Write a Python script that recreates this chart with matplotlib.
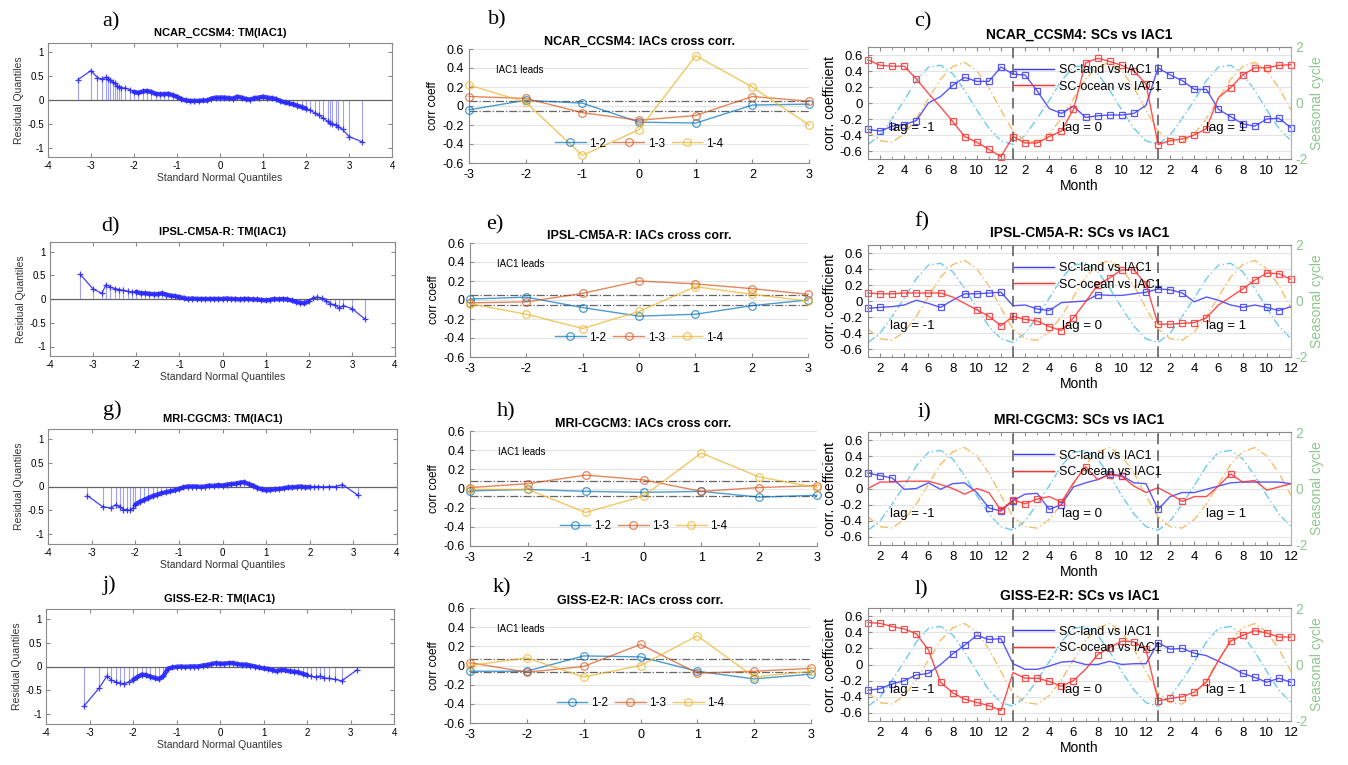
import numpy as np
import matplotlib
matplotlib.use("Agg")
import matplotlib.pyplot as plt
from matplotlib.lines import Line2D
from matplotlib.ticker import FuncFormatter, MultipleLocator

plt.rcParams["font.family"] = ["Liberation Sans", "DejaVu Sans"]
plt.rcParams["axes.unicode_minus"] = False

W, H = 1348, 765

MODELS = ["NCAR_CCSM4", "IPSL-CM5A-R", "MRI-CGCM3", "GISS-E2-R"]
LETTERS = [("a)", "b)", "c)"), ("d)", "e)", "f)"), ("g)", "h)", "i)"), ("j)", "k)", "l)")]

# ---------------- Q-Q residual quantiles (TM(IAC1)) ----------------
# centre of each Q-Q curve is read on a 0.1 grid of normal quantiles
QQ_GRID = np.round(np.arange(-2.0, 2.01, 0.1), 1)

qq_a_lx = [-3.3, -3.0, -2.85, -2.75, -2.65, -2.6, -2.55, -2.5, -2.45, -2.4, -2.35, -2.3, -2.2, -2.1]
qq_a_ly = [0.43, 0.62, 0.47, 0.44, 0.48, 0.45, 0.42, 0.38, 0.35, 0.30, 0.28, 0.26, 0.25, 0.22]
qq_a_mid = [0.17, 0.15, 0.18, 0.19, 0.17, 0.13, 0.12, 0.12, 0.13, 0.10, 0.07, 0.02, -0.01, -0.02,
            -0.02, -0.02, -0.01, -0.01, 0.03, 0.05, 0.05, 0.05, 0.04, 0.03, 0.07, 0.05, 0.02, 0.01,
            0.04, 0.05, 0.07, 0.05, 0.04, 0.02, -0.02, -0.05, -0.07, -0.09, -0.12, -0.15, -0.18]
qq_a_rx = [2.1, 2.2, 2.3, 2.4, 2.5, 2.55, 2.6, 2.7, 2.75, 2.85, 3.0, 3.3]
qq_a_ry = [-0.22, -0.27, -0.32, -0.38, -0.45, -0.48, -0.50, -0.52, -0.56, -0.62, -0.77, -0.88]

qq_d_lx = [-3.3, -3.0, -2.8, -2.7, -2.6, -2.5, -2.4, -2.3, -2.2, -2.1]
qq_d_ly = [0.52, 0.21, 0.12, 0.30, 0.25, 0.22, 0.20, 0.18, 0.16, 0.15]
qq_d_mid = [0.15, 0.12, 0.12, 0.11, 0.10, 0.10, 0.12, 0.09, 0.07, 0.06, 0.04, 0.02, 0.0, 0.01,
            0.0, 0.0, 0.0, 0.0, 0.0, 0.0, 0.0, 0.01, 0.0, 0.0, -0.01, 0.0, 0.0, -0.01,
            -0.01, -0.02, -0.03, -0.02, 0.0, -0.01, 0.0, -0.01, -0.03, -0.06, -0.08, -0.09, -0.05]
qq_d_rx = [2.1, 2.2, 2.3, 2.4, 2.5, 2.6, 2.7, 2.8, 3.0, 3.3]
qq_d_ry = [0.03, 0.04, 0.02, -0.04, -0.10, -0.12, -0.19, -0.14, -0.20, -0.42]

qq_g_lx = [-3.1, -2.75, -2.55, -2.45, -2.35, -2.28, -2.2, -2.12, -2.05]
qq_g_ly = [-0.19, -0.42, -0.45, -0.38, -0.42, -0.48, -0.48, -0.50, -0.45]
qq_g_mid = [-0.38, -0.32, -0.28, -0.24, -0.20, -0.17, -0.14, -0.12, -0.10, -0.08, -0.05, -0.02, 0.0, 0.0,
            0.0, -0.01, 0.0, 0.02, 0.01, 0.03, 0.02, 0.04, 0.05, 0.06, 0.08, 0.09, 0.05, 0.02,
            -0.03, -0.06, -0.08, -0.07, -0.06, -0.05, -0.04, -0.02, -0.02, -0.01, 0.0, -0.02, -0.01]
qq_g_rx = [2.1, 2.2, 2.3, 2.45, 2.6, 2.75, 3.1]
qq_g_ry = [0.0, 0.0, -0.01, 0.0, 0.0, 0.04, -0.18]

qq_j_lx = [-3.12, -2.78, -2.6, -2.5, -2.4, -2.3, -2.2, -2.1]
qq_j_ly = [-0.82, -0.45, -0.20, -0.28, -0.32, -0.35, -0.36, -0.32]
qq_j_mid = [-0.28, -0.22, -0.17, -0.18, -0.21, -0.24, -0.26, -0.20, -0.05, -0.02, -0.01, 0.0, -0.01, 0.0,
            0.0, 0.0, 0.02, 0.03, 0.05, 0.07, 0.06, 0.06, 0.07, 0.07, 0.05, 0.04, 0.04, 0.02,
            0.0, -0.02, -0.04, -0.05, -0.07, -0.10, -0.07, -0.08, -0.10, -0.11, -0.12, -0.15, -0.18]
qq_j_rx = [2.1, 2.2, 2.3, 2.4, 2.5, 2.65, 2.8, 3.15]
qq_j_ry = [-0.20, -0.22, -0.20, -0.24, -0.25, -0.27, -0.30, -0.07]

# ---------------- IACs cross correlation ----------------
LAGS = [-3, -2, -1, 0, 1, 2, 3]
cc_b = {"1-2": [-0.04, 0.06, 0.03, -0.17, -0.18, 0.01, 0.02],
        "1-3": [0.10, 0.08, -0.07, -0.15, -0.10, 0.10, 0.05],
        "1-4": [0.22, 0.04, -0.52, -0.25, 0.53, 0.20, -0.20]}
cc_e = {"1-2": [0.01, 0.03, -0.08, -0.17, -0.15, -0.06, 0.0],
        "1-3": [-0.03, -0.02, 0.07, 0.20, 0.17, 0.12, 0.06],
        "1-4": [-0.04, -0.15, -0.30, -0.12, 0.14, 0.06, -0.01]}
cc_h = {"1-2": [-0.025, -0.01, -0.03, -0.04, -0.03, -0.09, -0.07],
        "1-3": [0.01, 0.05, 0.14, 0.09, -0.03, 0.01, 0.03],
        "1-4": [-0.01, -0.01, -0.25, -0.08, 0.37, 0.12, 0.01]}
cc_k = {"1-2": [-0.06, -0.06, 0.10, 0.09, -0.06, -0.14, -0.09],
        "1-3": [0.03, -0.07, -0.01, 0.22, -0.08, -0.06, -0.03],
        "1-4": [0.0, 0.08, -0.12, 0.0, 0.31, -0.12, -0.06]}
cc_thr = [0.055, 0.055, 0.075, 0.068]

# ---------------- SCs vs IAC1 (3 x 12 months) ----------------
MONTHS = list(range(1, 37))
season_land = [-1.48, -1.15, -0.55, 0.10, 0.80, 1.28, 1.35, 1.05, 0.45, -0.25, -0.90, -1.35]
season_ocean = [-1.00, -1.35, -1.40, -1.10, -0.55, 0.15, 0.85, 1.30, 1.45, 1.15, 0.55, -0.25]

sc_c_land = [-0.33, -0.35, -0.29, -0.27, -0.22, 0.0, 0.08, 0.22, 0.32, 0.27, 0.27, 0.45,
             0.36, 0.35, 0.15, -0.07, -0.13, -0.04, -0.18, -0.16, -0.15, -0.15, -0.13, -0.03,
             0.44, 0.35, 0.28, 0.17, 0.17, -0.08, -0.17, -0.26, -0.29, -0.20, -0.19, -0.31]
sc_c_ocean = [0.54, 0.47, 0.46, 0.46, 0.30, 0.12, -0.05, -0.23, -0.42, -0.49, -0.58, -0.67,
              -0.42, -0.50, -0.50, -0.42, -0.35, -0.08, 0.50, 0.56, 0.52, 0.47, 0.40, 0.24,
              -0.52, -0.47, -0.45, -0.40, -0.32, 0.07, 0.19, 0.35, 0.44, 0.44, 0.47, 0.48]
sc_c_land_sig = [1, 1, 1, 1, 1, 0, 0, 1, 1, 1, 1, 1, 1, 1, 1, 0, 1, 0,
                 1, 1, 1, 1, 1, 0, 1, 1, 1, 1, 1, 1, 1, 1, 1, 1, 1, 1]
sc_c_ocean_sig = [1, 1, 1, 1, 1, 0, 0, 1, 1, 1, 1, 1, 1, 1, 1, 1, 1, 1,
                  1, 1, 1, 1, 1, 1, 1, 1, 1, 1, 1, 0, 1, 1, 1, 1, 1, 1]

sc_f_land = [-0.09, -0.08, -0.07, -0.05, 0.01, -0.03, -0.08, 0.01, 0.09, 0.09, 0.10, 0.11,
             -0.06, -0.05, -0.10, -0.12, -0.02, -0.01, 0.0, 0.08, 0.07, 0.07, 0.09, 0.11,
             0.15, 0.14, 0.10, -0.01, 0.05, 0.01, -0.05, -0.08, -0.05, -0.08, -0.12, -0.07]
sc_f_ocean = [0.10, 0.09, 0.09, 0.10, 0.10, 0.10, 0.10, 0.05, -0.03, -0.11, -0.19, -0.31,
              -0.19, -0.23, -0.25, -0.32, -0.37, -0.21, -0.01, 0.20, 0.29, 0.39, 0.39, 0.21,
              -0.29, -0.29, -0.28, -0.27, -0.21, -0.05, 0.05, 0.15, 0.26, 0.35, 0.34, 0.27]
sc_f_land_sig = [1, 1, 0, 0, 0, 0, 1, 0, 1, 1, 1, 1, 0, 0, 1, 1, 0, 0,
                 0, 1, 0, 0, 0, 1, 1, 1, 1, 0, 0, 0, 0, 1, 0, 1, 1, 0]
sc_f_ocean_sig = [1, 1, 1, 1, 1, 1, 1, 0, 0, 1, 1, 1, 1, 1, 1, 1, 1, 1,
                  0, 1, 1, 1, 1, 1, 1, 1, 1, 1, 1, 0, 0, 1, 1, 1, 1, 1]

sc_i_land = [0.19, 0.16, 0.13, -0.01, 0.0, 0.07, -0.01, 0.06, 0.07, -0.05, -0.24, -0.28,
             -0.15, -0.07, -0.06, -0.26, -0.20, 0.02, 0.07, 0.11, 0.18, 0.16, 0.07, 0.06,
             -0.26, -0.10, -0.05, -0.05, -0.01, 0.03, 0.07, 0.08, 0.08, 0.08, 0.08, 0.06]
sc_i_ocean = [0.0, 0.08, 0.08, 0.09, 0.09, 0.09, 0.05, 0.0, -0.07, 0.0, -0.05, -0.27,
              -0.14, -0.19, -0.13, -0.10, -0.17, 0.07, 0.27, 0.11, 0.17, 0.15, 0.03, -0.05,
              0.01, -0.07, -0.16, -0.10, -0.10, 0.03, 0.18, 0.08, 0.10, -0.02, 0.02, 0.06]
sc_i_land_sig = [1, 1, 1, 0, 0, 0, 0, 0, 0, 0, 1, 1, 1, 0, 0, 1, 1, 0,
                 0, 0, 1, 1, 0, 0, 1, 0, 0, 0, 0, 0, 0, 0, 0, 0, 0, 0]
sc_i_ocean_sig = [0, 0, 0, 0, 0, 0, 0, 0, 0, 0, 0, 1, 1, 1, 1, 0, 1, 0,
                  1, 0, 1, 1, 0, 0, 0, 0, 1, 0, 0, 0, 1, 0, 0, 0, 0, 0]

sc_l_land = [-0.32, -0.30, -0.24, -0.20, -0.13, -0.11, 0.0, 0.13, 0.24, 0.36, 0.31, 0.32,
             0.01, -0.06, -0.06, -0.02, 0.03, 0.04, 0.0, 0.0, 0.04, 0.0, 0.01, 0.01,
             0.27, 0.19, 0.20, 0.14, 0.11, 0.04, -0.03, -0.11, -0.16, -0.22, -0.17, -0.22]
sc_l_ocean = [0.52, 0.51, 0.47, 0.44, 0.38, 0.18, -0.22, -0.35, -0.43, -0.47, -0.51, -0.57,
              -0.10, -0.17, -0.17, -0.21, -0.27, -0.20, -0.06, 0.12, 0.21, 0.29, 0.28, 0.19,
              -0.45, -0.42, -0.40, -0.34, -0.22, 0.05, 0.29, 0.36, 0.42, 0.39, 0.34, 0.34]
sc_l_land_sig = [1, 1, 1, 1, 1, 1, 0, 1, 1, 1, 1, 1, 0, 0, 0, 0, 0, 0,
                 0, 0, 0, 0, 0, 0, 1, 1, 1, 1, 0, 0, 0, 1, 1, 1, 1, 1]
sc_l_ocean_sig = [1, 1, 1, 1, 1, 1, 1, 1, 1, 1, 1, 1, 0, 1, 1, 1, 1, 1,
                  0, 1, 1, 1, 1, 1, 1, 1, 1, 1, 1, 0, 1, 1, 1, 1, 1, 1]

# ---------------- layout (pixel boxes: left, top, right, bottom) ----------------
QQ_BOXES = [(48, 43, 392, 157), (50, 242, 395, 356), (48, 429, 397, 544), (46, 609, 394, 724)]
CC_BOXES = [(469, 49, 809, 163), (470, 243, 808, 357), (470, 431, 817, 546), (470, 608, 811, 723)]
SC_BOXES = [(868, 47, 1291, 159), (868, 245, 1291, 357), (868, 432, 1291, 545), (868, 608, 1291, 721)]
LETTER_POS = [((111, 22), (497, 20), (923, 22)), ((110, 227), (495, 225), (922, 222)),
              ((112, 410), (506, 412), (924, 413)), ((109, 585), (502, 588), (921, 590))]

CC_COLORS = {"1-2": "#0072BD", "1-3": "#D95319", "1-4": "#EDB120"}
LAND_COL = "#3a3aff"
OCEAN_COL = "#ff3030"
GREEN = "#8cc88c"
SPINE = "#8a8a8a"

num_fmt = FuncFormatter(lambda v, p: "0" if abs(v) < 1e-9 else f"{v:g}")


def add_box(fig, box):
    l, t, r, b = box
    return fig.add_axes([l / W, 1 - b / H, (r - l) / W, (b - t) / H])


def style_spines(ax, color=SPINE):
    for sp in ax.spines.values():
        sp.set_color(color)
        sp.set_linewidth(0.8)


def draw_qq(ax, title, lx, ly, mid, rx, ry):
    x = np.concatenate([lx, QQ_GRID, rx])
    y = np.concatenate([ly, mid, ry])
    ax.vlines(x, 0, y, color="#7777ff", lw=0.8, alpha=0.7, zorder=1)
    ax.axhline(0, color="#666666", lw=0.9, zorder=2)
    # dense centre of the sample drawn as a thick band
    ax.plot(QQ_GRID, mid, color="#2a2aff", lw=3.2, alpha=0.9, solid_capstyle="round", zorder=3)
    ax.plot(x, y, color="#2a2aff", lw=0.9, marker="+", ms=5, mew=0.9, alpha=0.9, zorder=3)
    ax.set_xlim(-4, 4)
    ax.set_ylim(-1.2, 1.2)
    ax.set_xticks([-4, -3, -2, -1, 0, 1, 2, 3, 4])
    ax.set_yticks([-1, -0.5, 0, 0.5, 1])
    ax.yaxis.set_major_formatter(num_fmt)
    ax.tick_params(direction="in", top=True, right=True, labelsize=7, length=3, color=SPINE, pad=3)
    ax.set_xlabel("Standard Normal Quantiles", fontsize=7.5, labelpad=1, color="#333333")
    ax.set_ylabel("Residual Quantiles", fontsize=7.5, labelpad=2, color="#333333")
    ax.set_title(title, fontsize=8, fontweight="bold", pad=5)
    style_spines(ax)


def draw_cc(ax, title, series, thr):
    ax.yaxis.grid(True, color="#e4e4e4", lw=0.8)
    ax.set_axisbelow(True)
    for key, vals in series.items():
        ax.plot(LAGS, vals, color=CC_COLORS[key], marker="o", mfc="none", ms=5.5, mew=0.9,
                lw=1.0, alpha=0.7, label=key, clip_on=False, zorder=3)
    ax.axhline(thr, color="#666666", ls="-.", lw=0.9, zorder=2)
    ax.axhline(-thr, color="#666666", ls="-.", lw=0.9, zorder=2)
    ax.set_xlim(-3, 3)
    ax.set_ylim(-0.6, 0.6)
    ax.set_xticks(LAGS)
    ax.set_yticks([-0.6, -0.4, -0.2, 0, 0.2, 0.4, 0.6])
    ax.yaxis.set_major_formatter(num_fmt)
    ax.tick_params(direction="in", labelsize=9, length=3, color=SPINE, pad=4)
    for side in ("top", "right"):
        ax.spines[side].set_visible(False)
    style_spines(ax)
    ax.set_ylabel("corr coeff", fontsize=8.5, labelpad=2)
    ax.set_title(title, fontsize=9, fontweight="bold", pad=3)
    ax.text(0.08, 0.82, "IAC1 leads", transform=ax.transAxes, fontsize=7, va="center")
    ax.legend(loc="center", bbox_to_anchor=(0.5, 0.17), ncol=3, frameon=False, fontsize=8.5,
              handlelength=2.6, columnspacing=0.6, handletextpad=0.3, borderpad=0)


def draw_sc(ax, title, land, ocean, land_sig, ocean_sig):
    ax2 = ax.twinx()
    ax.set_zorder(ax2.get_zorder() + 1)
    ax.patch.set_visible(False)
    ax2.plot(MONTHS, season_land * 3, color="#6ccaf2", ls=(0, (6, 2, 1, 2)), lw=1.0)
    ax2.plot(MONTHS, season_ocean * 3, color="#f9bc66", ls=(0, (6, 2, 1, 2)), lw=1.0)
    ax2.set_ylim(-2, 2)
    ax2.set_yticks([-2, 0, 2])
    ax2.tick_params(colors=GREEN, labelsize=10, direction="in", length=3, pad=3)
    ax2.set_ylabel("Seasonal cycle", color=GREEN, fontsize=10, labelpad=2)
    for sp in ax2.spines.values():
        sp.set_visible(False)

    ax.yaxis.grid(True, color="#e4e4e4", lw=0.8)
    ax.plot(MONTHS, land, color=LAND_COL, lw=1.0, alpha=0.85, marker="s", mfc="none", ms=5,
            mew=0.9, markevery=[i for i, s in enumerate(land_sig) if s], clip_on=False)
    ax.plot(MONTHS, ocean, color=OCEAN_COL, lw=1.0, alpha=0.85, marker="s", mfc="none", ms=5,
            mew=0.9, markevery=[i for i, s in enumerate(ocean_sig) if s], clip_on=False)
    for xv in (13, 25):
        ax.axvline(xv, color="#555555", ls=(0, (7, 4)), lw=1.1)
    for xv, lab in zip((4.7, 18.7, 30.6), ("lag = -1", "lag = 0", "lag = 1")):
        ax.text(xv, -0.31, lab, fontsize=9.5, ha="center", va="center")
    ax.set_xlim(1, 36)
    ax.set_ylim(-0.7, 0.7)
    ax.set_xticks(MONTHS[1::2])
    ax.set_xticklabels([str((m - 1) % 12 + 1) for m in MONTHS[1::2]])
    ax.xaxis.set_minor_locator(MultipleLocator(1))
    ax.set_yticks([-0.6, -0.4, -0.2, 0, 0.2, 0.4, 0.6])
    ax.yaxis.set_major_formatter(num_fmt)
    ax.tick_params(direction="in", which="both", top=True, labelsize=9.5, color=SPINE, pad=4)
    ax.tick_params(which="major", length=3)
    ax.tick_params(which="minor", length=2)
    style_spines(ax)
    ax.spines["right"].set_color(GREEN)
    ax.set_xlabel("Month", fontsize=10, labelpad=2)
    ax.set_ylabel("corr. coefficient", fontsize=10, labelpad=2)
    ax.set_title(title, fontsize=10, fontweight="bold", pad=6)
    handles = [Line2D([], [], color=LAND_COL, lw=1.0), Line2D([], [], color=OCEAN_COL, lw=1.0)]
    ax.legend(handles, ["SC-land vs IAC1", "SC-ocean vs IAC1"], loc="upper left",
              bbox_to_anchor=(0.33, 0.9), frameon=False, fontsize=9, handlelength=3.2,
              handletextpad=0.4, labelspacing=0.35, borderpad=0)


fig = plt.figure(figsize=(W / 100, H / 100), dpi=100)

qq_data = [
    (qq_a_lx, qq_a_ly, qq_a_mid, qq_a_rx, qq_a_ry),
    (qq_d_lx, qq_d_ly, qq_d_mid, qq_d_rx, qq_d_ry),
    (qq_g_lx, qq_g_ly, qq_g_mid, qq_g_rx, qq_g_ry),
    (qq_j_lx, qq_j_ly, qq_j_mid, qq_j_rx, qq_j_ry),
]
cc_data = [cc_b, cc_e, cc_h, cc_k]
sc_data = [
    (sc_c_land, sc_c_ocean, sc_c_land_sig, sc_c_ocean_sig),
    (sc_f_land, sc_f_ocean, sc_f_land_sig, sc_f_ocean_sig),
    (sc_i_land, sc_i_ocean, sc_i_land_sig, sc_i_ocean_sig),
    (sc_l_land, sc_l_ocean, sc_l_land_sig, sc_l_ocean_sig),
]

for row, model in enumerate(MODELS):
    draw_qq(add_box(fig, QQ_BOXES[row]), f"{model}: TM(IAC1)", *qq_data[row])
    draw_cc(add_box(fig, CC_BOXES[row]), f"{model}: IACs cross corr.", cc_data[row], cc_thr[row])
    draw_sc(add_box(fig, SC_BOXES[row]), f"{model}: SCs vs IAC1", *sc_data[row])
    for letter, (px, py) in zip(LETTERS[row], LETTER_POS[row]):
        fig.text(px / W, 1 - py / H, letter, fontsize=16, family="Liberation Serif",
                 ha="center", va="center")

fig.savefig("out.png", dpi=100)
